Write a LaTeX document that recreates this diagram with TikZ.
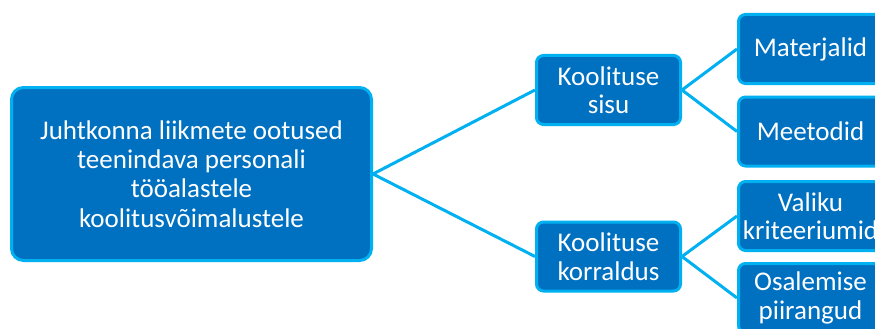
\documentclass[tikz,border=0pt]{standalone}
\usepackage{fontspec}
\setmainfont{Carlito}
\usetikzlibrary{backgrounds}
\definecolor{boxfill}{RGB}{0,112,192}
\definecolor{boxedge}{RGB}{0,176,240}
\begin{document}
\begin{tikzpicture}[x=1pt,y=-1pt,
  box/.style={draw=boxedge, fill=boxfill, line width=3pt, text=white,
    align=center, inner sep=0pt},
  mainbox/.style={box, rounded corners=12pt, minimum width=360pt, minimum height=173pt,
    font=\fontsize{27}{29.3}\selectfont},
  subbox/.style={box, rounded corners=7pt, minimum width=144pt, minimum height=69pt,
    font=\fontsize{27}{28.5}\selectfont},
  link/.style={draw=boxedge, line width=3pt}]
\clip (0,0) rectangle (875,329);
% tree of boxes
\node[mainbox] (root) at (191.5,174) {Juhtkonna liikmete ootused\\teenindava personali\\tööalastele\\koolitusvõimalustele};
\node[subbox] (sisu) at (608.5,90) {Koolituse\\sisu};
\node[subbox] (korr) at (608.5,256.5) {Koolituse\\korraldus};
\node[subbox] (mat) at (810.5,49) {Materjalid};
\node[subbox] (met) at (810.5,131.5) {Meetodid};
\node[subbox] (val) at (810.5,216) {Valiku\\kriteeriumid};
\node[subbox] (osa) at (810.5,298) {Osalemise\\piirangud};
% connectors behind the boxes
\begin{pgfonlayer}{background}
\draw[link] (root.east) -- (sisu.west);
\draw[link] (root.east) -- (korr.west);
\draw[link] (sisu.east) -- (mat.west);
\draw[link] (sisu.east) -- (met.west);
\draw[link] (korr.east) -- (val.west);
\draw[link] (korr.east) -- (osa.west);
\end{pgfonlayer}
\end{tikzpicture}
\end{document}
